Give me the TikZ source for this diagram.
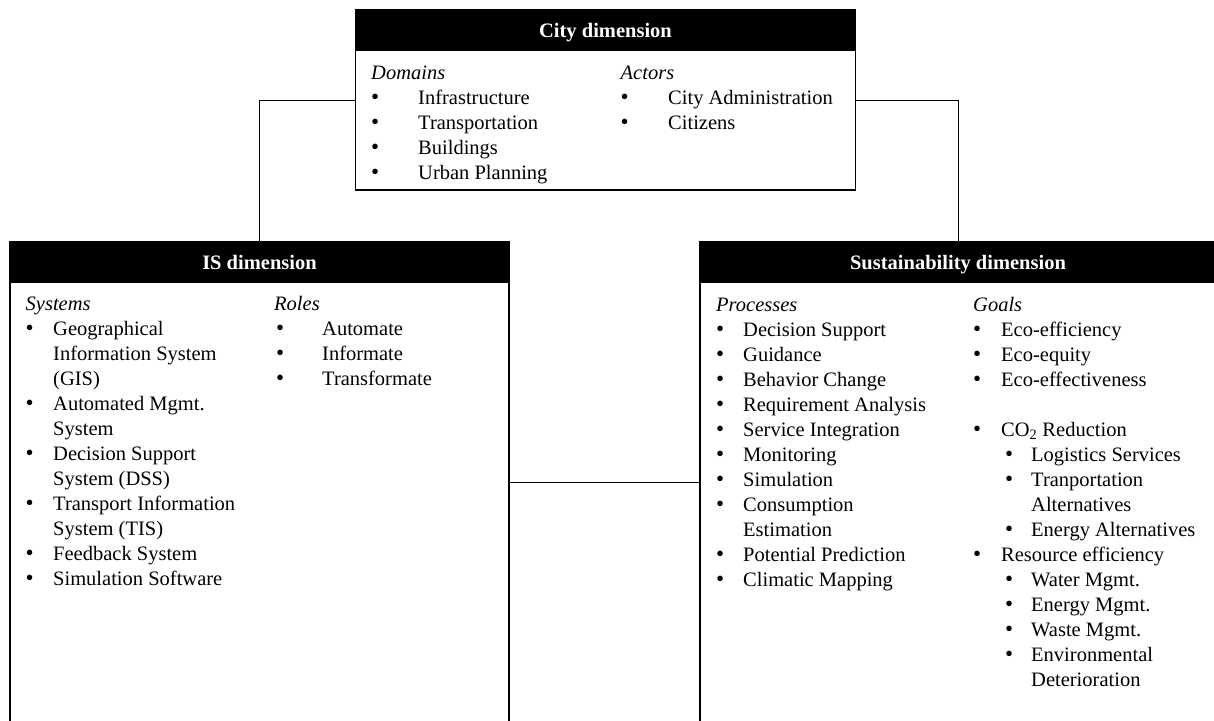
\documentclass[tikz,border=0pt]{standalone}
\usepackage{fontspec}
\setmainfont{Liberation Serif}
\usetikzlibrary{positioning}
\newcommand{\bul}{{\fontsize{23}{25}\selectfont\textbullet}}
\newcommand{\itm}[2]{\makebox[#1][l]{\bul}#2}
\newcommand{\subitm}[1]{\hspace*{32pt}\makebox[26pt][l]{\bul}#1}
\tikzset{
myDim/.style={
	rectangle, draw, line width=1.8pt, fill=white,
	inner sep=0pt, outer sep=0pt,
	minimum width=500pt, minimum height=180pt
}
, myTitle/.style={
	rectangle, draw, fill=black, line width=1.8pt, text=white,
	inner sep=0pt, outer sep=0pt, minimum height=40pt,
	font=\fontsize{20.5}{25}\selectfont\bfseries,
	text height=14pt, text depth=0pt
}
, myList/.style={
	anchor=north west, inner sep=0pt, align=left,
	font=\fontsize{20.5}{25}\selectfont
}
% link
, myLink/.style={line width=0.8pt}
}

\begin{document}
\begin{tikzpicture}[x=1pt,y=1pt]
	\useasboundingbox (0,0) rectangle (1214,-720);
	% boxes
	\node[myDim] (City) at (605.5,-100) {};
	\node[myDim, minimum width=499pt, minimum height=480pt, anchor=north west] (IS) at (10,-242) {};
	\node[myDim, minimum width=516pt, minimum height=480pt, anchor=north west] (Sus) at (700,-242) {};
	% titles
	\node[myTitle, minimum width=500pt, anchor=north] (CityT) at (City.north) {City dimension};
	\node[myTitle, minimum width=499pt, anchor=north] (IST) at (IS.north) {IS dimension};
	\node[myTitle, minimum width=516pt, anchor=north] (SusT) at (Sus.north) {Sustainability dimension};

	% city lists
	\node[myList] (Domains) at (371,-62) {\strut\textit{Domains}\\
		\itm{47pt}{Infrastructure}\\
		\itm{47pt}{Transportation}\\
		\itm{47pt}{Buildings}\\
		\itm{47pt}{Urban Planning}};
	\node[myList] (Actors) at (620.5,-62) {\strut\textit{Actors}\\
		\itm{47.5pt}{City Administration}\\
		\itm{47.5pt}{Citizens}};

	% IS lists
	\node[myList] (Systems) at (25.5,-292.5) {\strut\textit{Systems}\\
		\itm{27.5pt}{Geographical}\\
		\hspace*{27.5pt}Information System\\
		\hspace*{27.5pt}(GIS)\\
		\itm{27.5pt}{Automated Mgmt.}\\
		\hspace*{27.5pt}System\\
		\itm{27.5pt}{Decision Support}\\
		\hspace*{27.5pt}System (DSS)\\
		\itm{27.5pt}{Transport Information}\\
		\hspace*{27.5pt}System (TIS)\\
		\itm{27.5pt}{Feedback System}\\
		\itm{27.5pt}{Simulation Software}};
	\node[myList] (Roles) at (274,-292.5) {\strut\textit{Roles}\\
		\hspace*{2pt}\itm{46pt}{Automate}\\
		\hspace*{2pt}\itm{46pt}{Informate}\\
		\hspace*{2pt}\itm{46pt}{Transformate}};

	% sustainability lists
	\node[myList] (Processes) at (716,-293.5) {\strut\textit{Processes}\\
		\itm{27pt}{Decision Support}\\
		\itm{27pt}{Guidance}\\
		\itm{27pt}{Behavior Change}\\
		\itm{27pt}{Requirement Analysis}\\
		\itm{27pt}{Service Integration}\\
		\itm{27pt}{Monitoring}\\
		\itm{27pt}{Simulation}\\
		\itm{27pt}{Consumption}\\
		\hspace*{27pt}Estimation\\
		\itm{27pt}{Potential Prediction}\\
		\itm{27pt}{Climatic Mapping}};
	\node[myList] (Goals) at (973,-293.5) {\strut\textit{Goals}\\
		\itm{28pt}{Eco-efficiency}\\
		\itm{28pt}{Eco-equity}\\
		\itm{28pt}{Eco-effectiveness}\\[25pt]
		\itm{28pt}{CO\textsubscript{2} Reduction}\\
		\subitm{Logistics Services}\\
		\subitm{Tranportation}\\
		\hspace*{58pt}Alternatives\\
		\subitm{Energy Alternatives}\\
		\itm{28pt}{Resource efficiency}\\
		\subitm{Water Mgmt.}\\
		\subitm{Energy Mgmt.}\\
		\subitm{Waste Mgmt.}\\
		\subitm{Environmental}\\
		\hspace*{58pt}Deterioration};

	% links
	\draw[myLink] (City.west) -| (IS.north);
	\draw[myLink] (City.east) -| (Sus.north);
	\draw[myLink] (IS.east) -- (Sus.west);
\end{tikzpicture}
\end{document}
